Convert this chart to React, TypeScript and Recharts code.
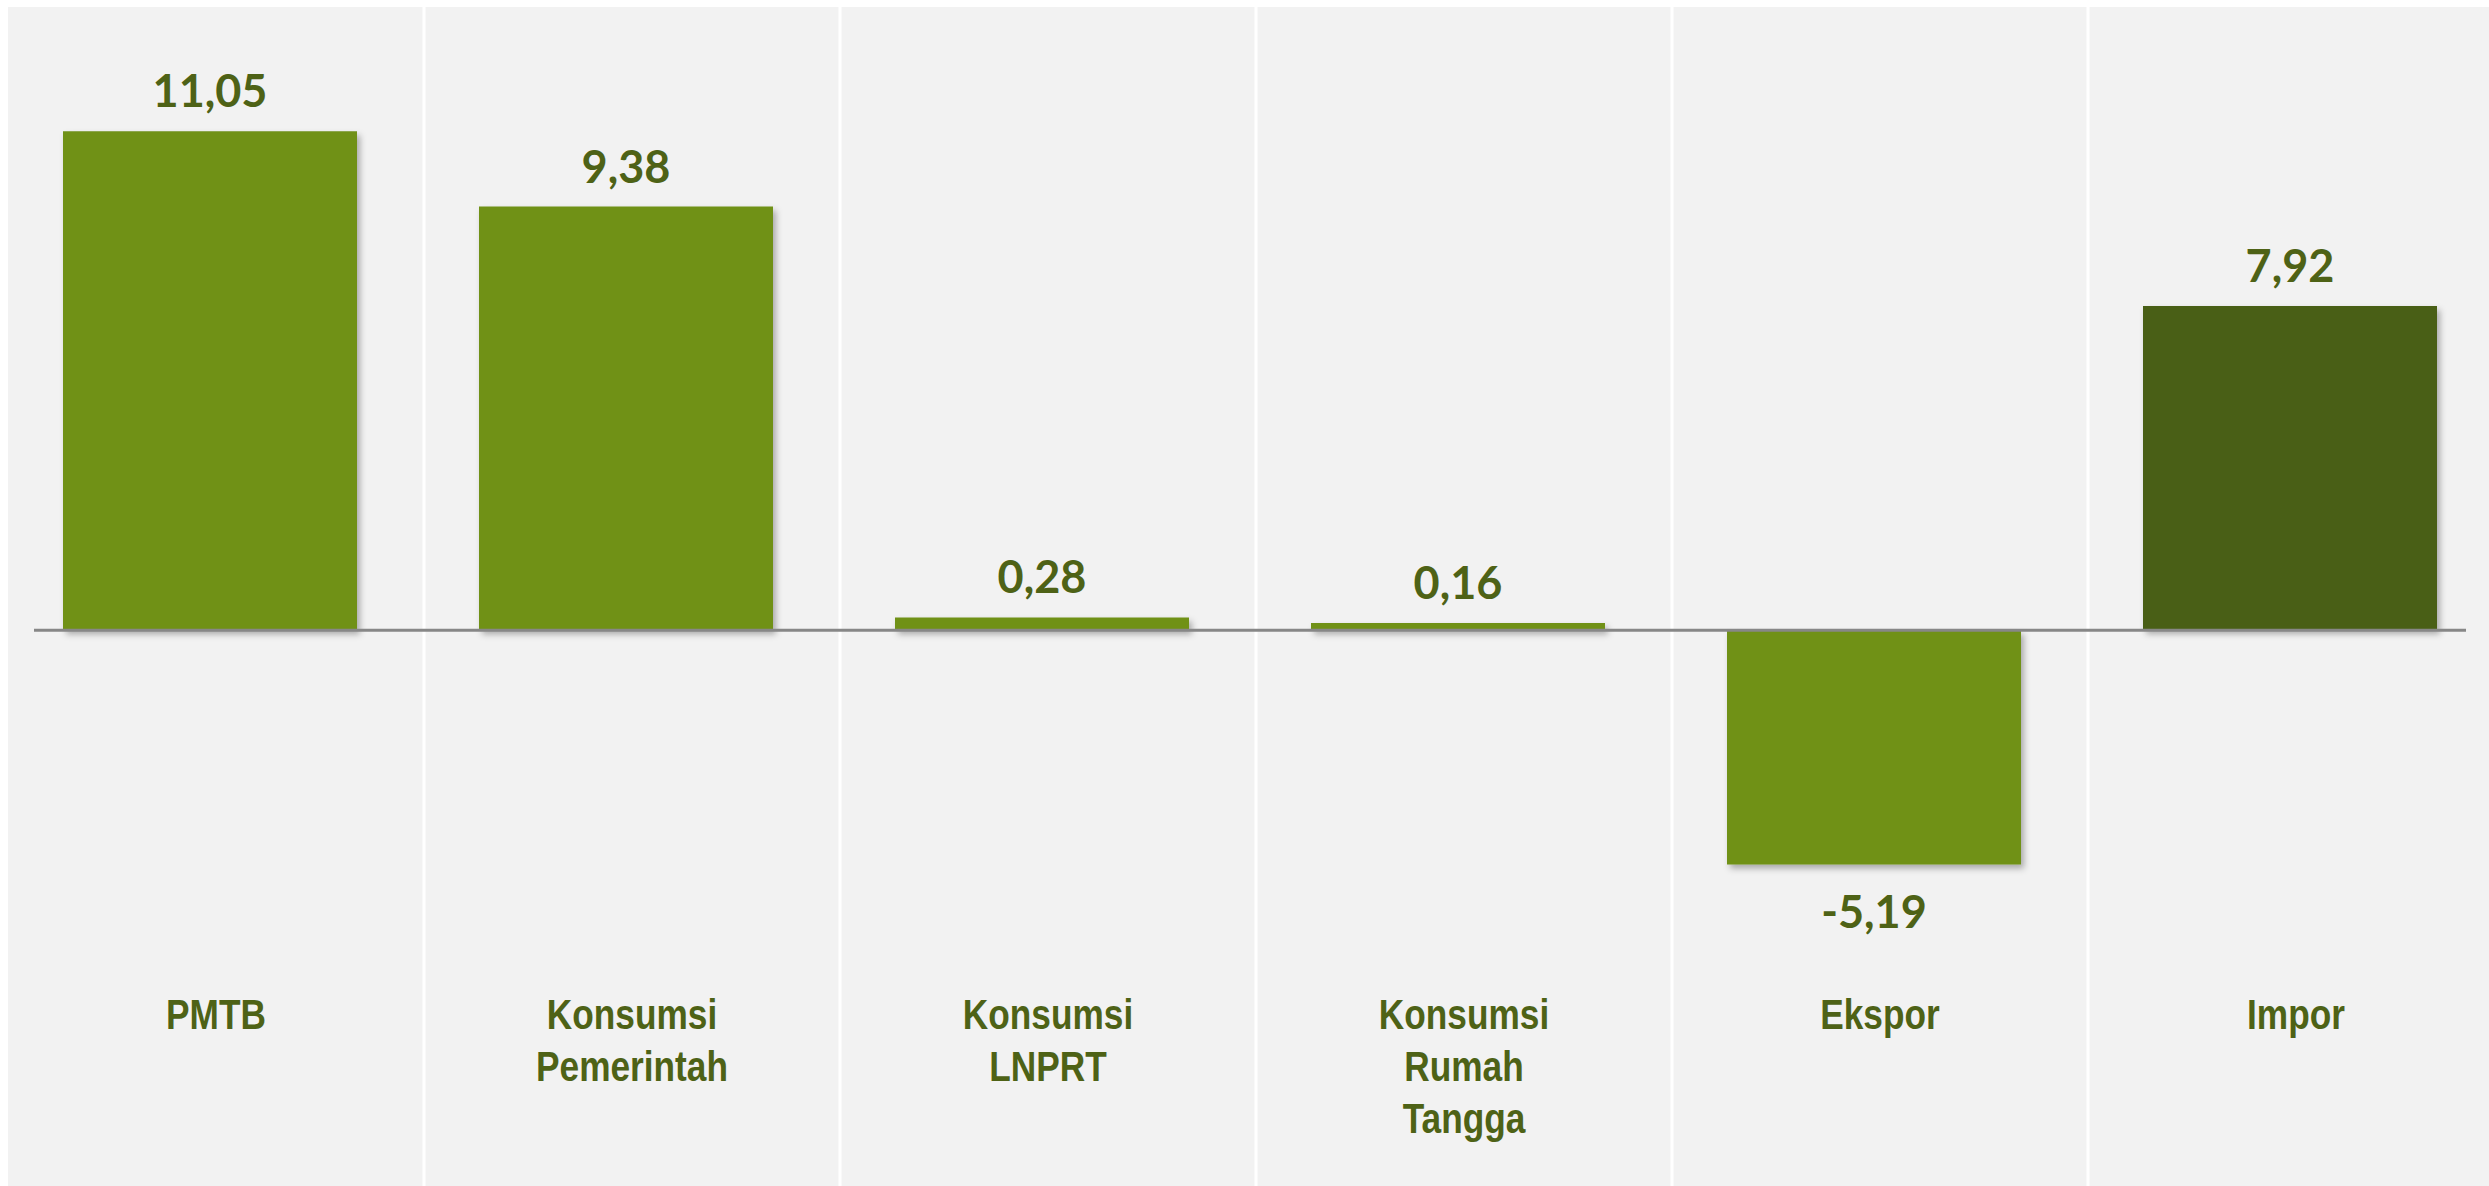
import React from 'react'
import {
  BarChart, Bar, XAxis, YAxis, CartesianGrid, ReferenceLine, LabelList, Rectangle,
} from 'recharts'

// ── Data ───────────────────────────────────────────────────────────────────

const categories = ['PMTB', 'Konsumsi Pemerintah', 'Konsumsi LNPRT', 'Konsumsi Rumah Tangga', 'Ekspor', 'Impor']
const growth = [11.05, 9.38, 0.28, 0.16, -5.19, null]
// Impor sits on its own (secondary) value axis
const imporGrowth = [null, null, null, null, null, 7.92]

const data = categories.map((name, i) => ({ name, growth: growth[i], impor: imporGrowth[i] }))

const GREEN = '#6F9119'
const DARK_GREEN = '#4A5E12'
const TEXT = '#4E6216'
const PANEL = '#F2F2F2'

const fmt = (v: unknown) => (v == null ? '' : Number(v).toFixed(2).replace('.', ','))

function CategoryTick({ x, y, payload }: any) {
  const lines = String(payload.value).split(' ')
  return (
    <g transform={`translate(${x},${y - 157}) scale(0.82,1)`}>
      <text
        textAnchor="middle"
        fill={TEXT}
        fontFamily="'Liberation Sans', Arial, sans-serif"
        fontWeight={700}
        fontSize={43}
      >
        {lines.map((l, i) => (
          <tspan key={i} x={0} y={i * 52}>{l}</tspan>
        ))}
      </text>
    </g>
  )
}

function ValueLabel({ x, y, width, height, value }: any) {
  if (value == null) return null
  const top = Math.min(y, y + height)
  const bottom = Math.max(y, y + height)
  const ty = value >= 0 ? top - 24 : bottom + 64
  return (
    <text
      x={x + width / 2}
      y={ty}
      textAnchor="middle"
      fill={TEXT}
      fontFamily='Lato, "Open Sans", sans-serif'
      fontWeight={700}
      fontSize={45}
    >
      {fmt(value)}
    </text>
  )
}

const ShadowBar = (p: any) => (
  <Rectangle x={p.x} y={p.y} width={p.width} height={p.height} fill={p.fill} filter="url(#barShadow)" />
)

const ZeroLine = (p: any) => (
  <line x1={p.x1 + 26} y1={p.y1} x2={p.x2 - 38} y2={p.y2} stroke="#878787" strokeWidth={3} />
)

export default function App() {
  return (
    <>
      <svg width={0} height={0} style={{ position: 'absolute' }}>
        <defs>
          <filter id="barShadow" filterUnits="userSpaceOnUse" x={-100} y={-100} width={3000} height={1500}>
            <feDropShadow dx={3} dy={4} stdDeviation={3} floodColor="#000" floodOpacity={0.3} />
          </filter>
        </defs>
      </svg>
      <div style={{ position: 'fixed', left: 8, top: 7, width: 2481, height: 1179, overflow: 'hidden', background: PANEL }}>
        <BarChart width={2496} height={1180} data={data} margin={{ top: 0, right: 0, left: 0, bottom: 0 }}>
          <CartesianGrid
            xAxisId="a"
            yAxisId="a"
            horizontal={false}
            stroke="#FFFFFF"
            strokeWidth={3}
            fill={PANEL}
            verticalCoordinatesGenerator={({ offset }: any) =>
              [1, 2, 3, 4, 5].map(k => offset.left + (k * offset.width) / categories.length)
            }
          />
          <XAxis
            xAxisId="a"
            dataKey="name"
            height={1}
            interval={0}
            axisLine={false}
            tickLine={false}
            tickSize={0}
            tickMargin={0}
            tick={<CategoryTick />}
          />
          <XAxis xAxisId="b" dataKey="name" hide padding={{ left: -6, right: 6 }} />
          <XAxis xAxisId="c" dataKey="name" hide padding={{ left: -6, right: 6 }} />
          <YAxis yAxisId="a" hide domain={[-12.31, 13.8]} />
          <YAxis yAxisId="b" hide domain={[-13.59, 15.23]} />
          <Bar xAxisId="b" yAxisId="a" dataKey="growth" fill={GREEN} barSize={294} shape={ShadowBar} isAnimationActive={false}>
            <LabelList dataKey="growth" content={<ValueLabel />} />
          </Bar>
          <Bar xAxisId="c" yAxisId="b" dataKey="impor" fill={DARK_GREEN} barSize={294} shape={ShadowBar} isAnimationActive={false}>
            <LabelList dataKey="impor" content={<ValueLabel />} />
          </Bar>
          <ReferenceLine xAxisId="a" yAxisId="a" y={0} shape={ZeroLine} />
        </BarChart>
      </div>
    </>
  )
}
